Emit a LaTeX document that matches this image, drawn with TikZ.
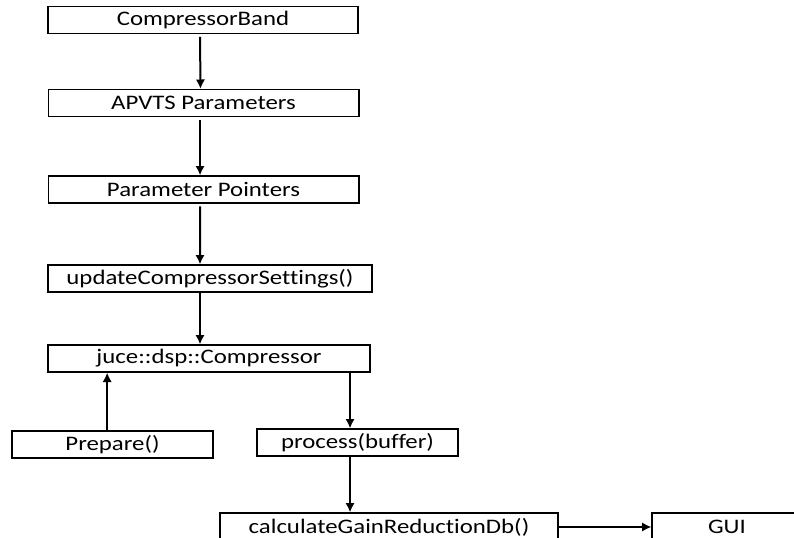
\documentclass[tikz,border=0pt]{standalone}
\usepackage{fontspec}
\setmainfont{Carlito}[FakeStretch=1.2,Ligatures=NoCommon]
\usetikzlibrary{arrows.meta}

\begin{document}
\begin{tikzpicture}[x=0.75pt, y=-0.75pt,
    box/.style = {draw, line width=1pt, minimum height=20.25pt, inner sep=0pt, font=\fontsize{15.5}{18}\selectfont},
    arr/.style = {-{Latex[length=7pt,width=7pt]}, line width=1.5pt}]
    \useasboundingbox (0,0) rectangle (794,537);
    \node at (203,20)    [box,minimum width=232.5pt] (band) {CompressorBand};
    \node at (203.5,103) [box,minimum width=233pt] (apvts) {APVTS Parameters};
    \node at (203.5,189.5) [box,minimum width=233pt] (ptrs) {Parameter Pointers};
    \node at (210,278.5) [box,minimum width=243pt] (update) {updateCompressorSettings()};
    \node at (209,358.5) [box,minimum width=241.5pt] (comp) {juce::dsp::Compressor};
    \node at (112.5,444.5) [box,minimum width=150.75pt] (prep) {Prepare()};
    \node at (357.5,442.5) [box,minimum width=150.75pt] (proc) {process(buffer)};
    \node at (389,527) [box,minimum width=253.5pt,minimum height=21pt] (calc) {calculateGainReductionDb()};
    \node at (727,527) [box,minimum width=112.5pt,minimum height=21pt] (gui) {GUI};
    \draw[arr,shorten <=2pt] ([xshift=-2.25pt]band.south) -- ([xshift=-2.25pt]apvts.north);
    \draw[arr,shorten <=2pt] ([xshift=-2.6pt]apvts.south) -- ([xshift=-2.6pt]ptrs.north);
    \draw[arr,shorten <=2pt] ([xshift=-2.6pt]ptrs.south) -- ([xshift=-7.5pt]update.north);
    \draw[arr] ([xshift=-7.5pt]update.south) -- ([xshift=-6.75pt]comp.north);
    \draw[arr] ([xshift=-4pt]prep.north) -- ([xshift=-4pt]prep.north |- comp.south);
    \draw[arr] ([xshift=-5.6pt]proc.north |- comp.south) -- ([xshift=-5.6pt]proc.north);
    \draw[arr] ([xshift=-5.6pt]proc.south) -- ([xshift=-5.6pt]proc.south |- calc.north);
    \draw[arr,line width=1.2pt] (calc) -- (gui);
\end{tikzpicture}
\end{document}
